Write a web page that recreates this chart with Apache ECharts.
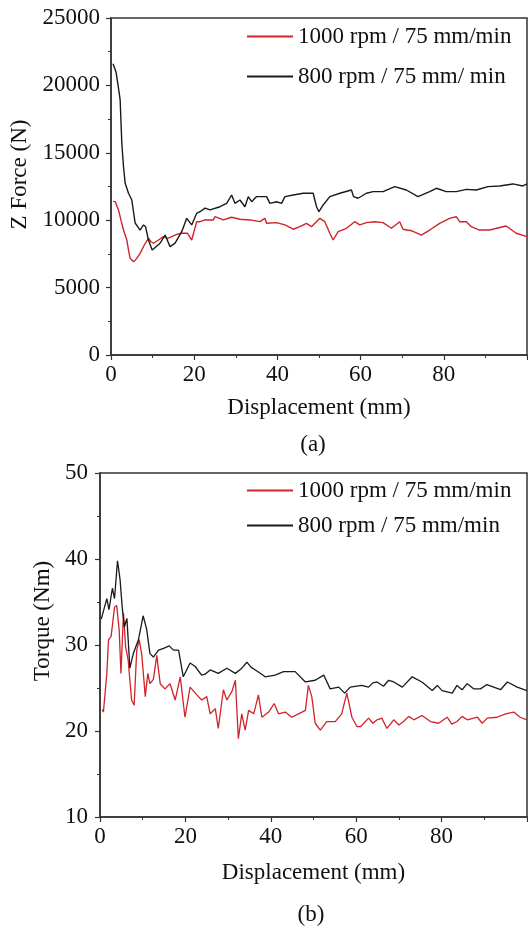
<!DOCTYPE html>
<html>
<head>
    <meta charset="utf-8">
    <title>force_torque</title>
    <script type="text/javascript" src="https://cdn.jsdelivr.net/npm/echarts@6/dist/echarts.min.js"></script>
    <style>
        html, body {
            margin: 0;
            padding: 0;
            background: #fff;
        }
        #main {
            width: 528px;
            height: 929px;
        }
    </style>
</head>
<body>
<div id="main"></div>
<script type="text/javascript">
    // (a) Z force, 1000 rpm
    var forceX1000 = [0.5, 1, 1.8, 2.4, 3, 3.8, 4.2, 4.6, 5.4, 5.9, 6.3, 7, 8, 9, 9.6, 10.2, 11.4, 12.6, 13.6, 14.6,
        15.8, 17, 18.4, 19.4, 20.6, 21.4, 22.6, 24.6, 25, 27, 29, 31, 33.4, 35.8, 37, 37.4, 39.8, 41.8, 43.8, 45.4,
        47, 48.2, 50.2, 51.4, 52.6, 53.4, 54.6, 56.6, 58.6, 59.8, 61.4, 63.4, 65.4, 67.4, 69.4, 70.2, 72.2, 74.6,
        76.6, 79, 81.4, 83, 83.8, 85.4, 86.6, 88.6, 91, 95, 97.4, 100];
    var forceY1000 = [11400, 11380, 10760, 10000, 9270, 8530, 7800, 7170, 6920, 7050, 6920, 7540, 8160, 8660, 8400,
        8290, 8530, 8780, 8650, 8780, 8950, 9030, 9030, 8530, 9890, 9890, 10020, 10020, 10260, 10020, 10220, 10070,
        10020, 9890, 10140, 9770, 9820, 9650, 9330, 9520, 9770, 9520, 10140, 9890, 9030, 8530, 9150, 9400, 9890,
        9650, 9820, 9890, 9820, 9400, 9890, 9330, 9220, 8900, 9270, 9770, 10140, 10260, 9890, 9890, 9520, 9270,
        9270, 9570, 9030, 8780];

    // (a) Z force, 800 rpm
    var forceX800 = [0.5, 0.7, 1.2, 1.8, 2.2, 2.6, 3, 3.4, 4.2, 5, 5.8, 7, 7.8, 8.3, 9, 9.9, 10.3, 11.8, 13, 14.2,
        15.4, 17, 18.2, 19.4, 19.8, 20.6, 21.4, 22.6, 23.8, 24.2, 26.2, 27.8, 29, 29.8, 31, 32.2, 33, 33.8, 35,
        37.4, 38.2, 39.8, 41, 41.8, 43.8, 46.2, 48.6, 49, 49.4, 50, 51, 52.6, 55, 57.8, 58.3, 59.4, 61.4, 63, 65.4,
        68.2, 71, 73.8, 76.6, 78.2, 80.6, 83, 85.4, 87.8, 90.6, 93.4, 96.6, 99, 100];
    var forceY800 = [21600, 21640, 21000, 19800, 18920, 15700, 14000, 12760, 12000, 11500, 9790, 9270, 9650, 9520,
        8530, 7790, 7900, 8290, 8900, 8040, 8300, 9150, 10140, 9650, 9650, 10510, 10630, 10900, 10760, 10800, 11000,
        11250, 11870, 11250, 11500, 11000, 11750, 11370, 11750, 11750, 11250, 11370, 11250, 11750, 11870, 12000,
        12000, 11870, 11000, 10630, 11130, 11750, 12000, 12240, 11750, 11630, 12000, 12120, 12120, 12490, 12240,
        11750, 12120, 12370, 12120, 12120, 12290, 12240, 12490, 12540, 12690, 12540, 12690];

    // (b) torque, 1000 rpm
    var torqueX1000 = [0.5, 0.8, 1.6, 2, 2.6, 3.4, 3.9, 4.5, 4.9, 5.5, 6, 6.6, 7.4, 8, 8.6, 9.2, 9.8, 10.6, 11.2,
        11.7, 12.5, 13.3, 14.1, 15.2, 16.4, 17.6, 18.8, 19.9, 21.1, 22.7, 23.8, 25, 25.8, 27, 27.7, 28.9, 29.7,
        30.9, 31.7, 32.4, 33.2, 34, 34.8, 36, 37.1, 37.9, 39.5, 40.8, 41.8, 43.4, 44.9, 46.5, 48.1, 48.8, 49.6,
        50.4, 51.6, 53.1, 55.1, 56.6, 57.8, 59, 60.2, 61, 62.9, 63.9, 64.9, 66, 67.2, 68.8, 70, 71.1, 72.3, 73.5,
        75.4, 77.4, 79.3, 81.3, 82.4, 83.6, 84.8, 86, 88.4, 89.5, 90.7, 93, 95, 96.9, 98.4, 100];
    var torqueY1000 = [22.5, 22.2, 26.7, 30.6, 31, 34.4, 34.6, 31.7, 26.7, 33.7, 29.8, 28.2, 23.6, 23, 29.4, 30.6,
        28.8, 24, 26.7, 25.5, 26, 28.8, 25.5, 24.9, 25.5, 23.6, 26.3, 21.6, 25.1, 24.2, 23.6, 24, 22, 22.6, 20.3,
        24.8, 23.6, 24.6, 25.9, 19.1, 22, 20.1, 22.4, 22, 24.2, 21.6, 22.2, 23.2, 22, 22.2, 21.6, 22, 22.4, 25.3,
        24, 20.9, 20.1, 21.1, 21.1, 22, 24.4, 21.6, 20.5, 20.5, 21.5, 20.9, 21.3, 21.5, 20.3, 21.3, 20.7, 21.1, 21.7,
        21.3, 21.8, 21.1, 20.9, 21.6, 20.8, 21.1, 21.7, 21.3, 21.6, 20.9, 21.5, 21.6, 22, 22.2, 21.6, 21.3];

    // (b) torque, 800 rpm
    var torqueX800 = [0.3, 0.5, 1.6, 2.1, 2.9, 3.4, 4.1, 4.7, 5.2, 5.7, 6.3, 7, 7.8, 9, 10.1, 10.9, 11.7, 12.5, 13.7,
        14.9, 16.2, 17.2, 18.4, 19.5, 21.1, 22.3, 23.8, 24.6, 25.8, 27.7, 29.7, 31.7, 33, 34.4, 35.4, 36.4, 38.7,
        41, 43, 45.7, 48.1, 50.4, 52.4, 53.9, 55.9, 57.3, 58.6, 61.3, 62.9, 63.9, 64.9, 66.4, 67.6, 68.8, 70.8,
        73.1, 75.4, 77.8, 79, 80.1, 82.5, 83.6, 84.8, 86, 87.5, 89.1, 90.6, 92.2, 93.8, 95.4, 97.7, 100];
    var torqueY800 = [33, 33.1, 35.4, 34.1, 36.6, 35.4, 39.8, 37.6, 34.4, 32.1, 33.1, 27.3, 29, 30.6, 33.4, 31.9, 29,
        28.6, 29.4, 29.6, 29.9, 29.4, 29.4, 26.3, 27.9, 27.5, 26.5, 26.6, 27.1, 26.7, 27.3, 26.7, 27.2, 28, 27.4,
        27.1, 26.3, 26.5, 26.9, 26.9, 25.7, 25.9, 26.5, 24.9, 25.1, 24.4, 25.1, 25.3, 25.1, 25.6, 25.7, 25.2, 25.9,
        25.7, 25.1, 26.3, 25.7, 24.7, 25.3, 24.7, 24.4, 25.3, 24.8, 25.5, 24.9, 24.9, 25.4, 25.1, 24.8, 25.7, 25.1,
        24.7];

    var chart = echarts.init(document.getElementById('main'));

    var serif = "'Liberation Serif', 'Times New Roman', serif";
    var red = '#d0232a';
    var black = '#1a1a1a';

    function pairs(xs, ys) {
        var out = [];
        for (var i = 0; i < xs.length; i++) {
            out.push([xs[i], ys[i]]);
        }
        return out;
    }

    // plain numbers, no thousands separator
    function plain(v) {
        return String(v);
    }

    function xAxisFor(idx, gap) {
        return {
            gridIndex: idx,
            type: 'value',
            min: 0,
            max: 100,
            interval: 20,
            name: 'Displacement (mm)',
            nameLocation: 'middle',
            nameGap: gap,
            nameTextStyle: {fontFamily: serif, fontSize: 23, color: '#111'},
            axisLine: {lineStyle: {color: '#333', width: 1.5}},
            axisTick: {length: 5, lineStyle: {color: '#333', width: 1.2}},
            minorTick: {show: true, splitNumber: 2, length: 3, lineStyle: {color: '#333'}},
            splitLine: {show: false},
            axisLabel: {showMaxLabel: false, margin: 8, fontFamily: serif, fontSize: 23, color: '#111', formatter: plain}
        };
    }

    function legendFor(idx, top, gap, names) {
        return {
            seriesIndex: idx,
            orient: 'vertical',
            left: 247,
            top: top,
            padding: 0,
            itemGap: gap,
            itemWidth: 46,
            itemHeight: 2,
            icon: 'rect',
            data: names,
            textStyle: {fontFamily: serif, fontSize: 23, color: '#111', lineHeight: 23}
        };
    }

    var option = {
        backgroundColor: '#fff',
        animation: false,
        grid: [
            {left: 111, top: 18, width: 416, height: 337, show: true, borderColor: '#333', borderWidth: 1.5},
            {left: 100, top: 473, width: 427, height: 344, show: true, borderColor: '#333', borderWidth: 1.5}
        ],
        legend: [
            legendFor(0, 25, 17, ['1000 rpm / 75 mm/min', '800 rpm / 75 mm/ min']),
            legendFor(1, 479, 12, ['1000 rpm / 75 mm/min', '800 rpm / 75 mm/min'])
        ],
        xAxis: [xAxisFor(0, 41), xAxisFor(1, 44)],
        yAxis: [
            {
                gridIndex: 0,
                type: 'value',
                min: 0,
                max: 25000,
                interval: 5000,
                name: 'Z Force (N)',
                nameLocation: 'middle',
                nameGap: 74,
                nameTextStyle: {fontFamily: serif, fontSize: 23, color: '#111', padding: [0, 0, 0, 24]},
                axisLine: {lineStyle: {color: '#333', width: 1.5}},
                axisTick: {length: 5, lineStyle: {color: '#333', width: 1.2}},
                minorTick: {show: true, splitNumber: 2, length: 3, lineStyle: {color: '#333'}},
                splitLine: {show: false},
                axisLabel: {margin: 11, fontFamily: serif, fontSize: 23, color: '#111', formatter: plain}
            },
            {
                gridIndex: 1,
                type: 'value',
                min: 10,
                max: 50,
                interval: 10,
                name: 'Torque (Nm)',
                nameLocation: 'middle',
                nameGap: 45,
                nameTextStyle: {fontFamily: serif, fontSize: 23, color: '#111', padding: [0, 0, 0, 48]},
                axisLine: {lineStyle: {color: '#333', width: 1.5}},
                axisTick: {length: 5, lineStyle: {color: '#333', width: 1.2}},
                minorTick: {show: true, splitNumber: 2, length: 3, lineStyle: {color: '#333'}},
                splitLine: {show: false},
                axisLabel: {margin: 12, fontFamily: serif, fontSize: 23, color: '#111', formatter: plain}
            }
        ],
        graphic: [
            {type: 'text', x: 313, y: 445, style: {text: '(a)', font: '23px ' + serif, fill: '#111', align: 'center', verticalAlign: 'middle'}},
            {type: 'text', x: 311, y: 915, style: {text: '(b)', font: '23px ' + serif, fill: '#111', align: 'center', verticalAlign: 'middle'}}
        ],
        series: [
            {
                name: '1000 rpm / 75 mm/min', type: 'line', xAxisIndex: 0, yAxisIndex: 0,
                showSymbol: false, color: red, lineStyle: {width: 1.4},
                data: pairs(forceX1000, forceY1000)
            },
            {
                name: '800 rpm / 75 mm/ min', type: 'line', xAxisIndex: 0, yAxisIndex: 0,
                showSymbol: false, color: black, lineStyle: {width: 1.4},
                data: pairs(forceX800, forceY800)
            },
            {
                name: '1000 rpm / 75 mm/min', type: 'line', xAxisIndex: 1, yAxisIndex: 1,
                showSymbol: false, color: red, lineStyle: {width: 1.3},
                data: pairs(torqueX1000, torqueY1000)
            },
            {
                name: '800 rpm / 75 mm/min', type: 'line', xAxisIndex: 1, yAxisIndex: 1,
                showSymbol: false, color: black, lineStyle: {width: 1.3},
                data: pairs(torqueX800, torqueY800)
            }
        ]
    };
    chart.setOption(option);
</script>
</body>
</html>
